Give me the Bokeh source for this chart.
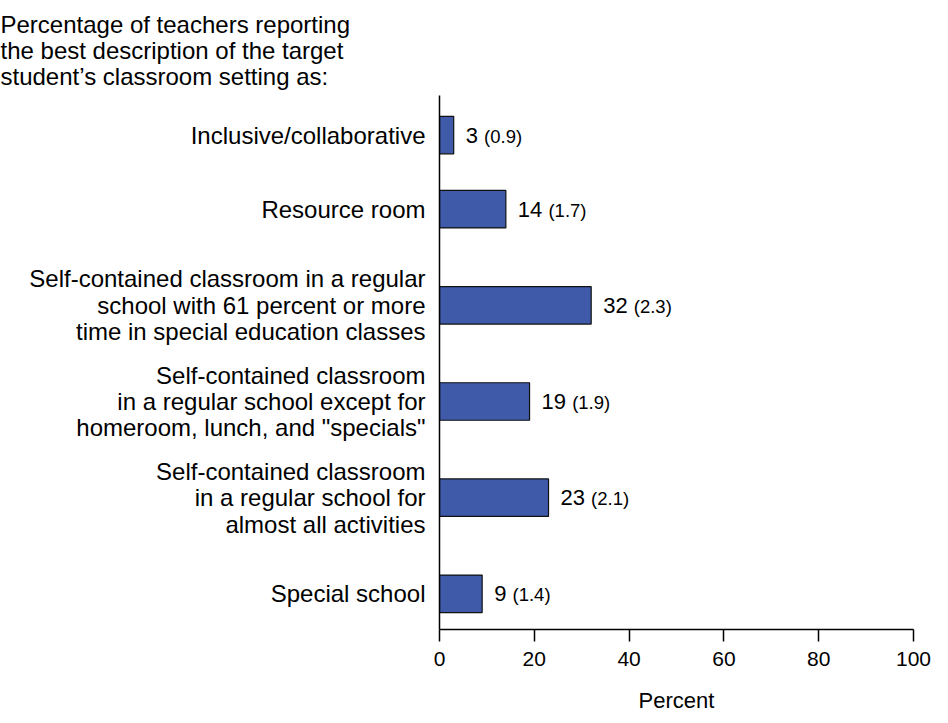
from bokeh.plotting import figure
from bokeh.models import ColumnDataSource, Range1d, FixedTicker
from bokeh.embed import file_html
from bokeh.resources import INLINE
from bokeh.core.properties import value

# ---- data (top to bottom as shown) ----
categories = [
    "Inclusive/collaborative",
    "Resource room",
    "Self-contained classroom in a regular\nschool with 61 percent or more\ntime in special education classes",
    "Self-contained classroom\nin a regular school except for\nhomeroom, lunch, and \"specials\"",
    "Self-contained classroom\nin a regular school for\nalmost all activities",
    "Special school",
]
percents = [3, 14, 32, 19, 23, 9]
std_errors = [0.9, 1.7, 2.3, 1.9, 2.1, 1.4]
x_ticks = [0, 20, 40, 60, 80, 100]
title_text = ("Percentage of teachers reporting\n"
              "the best description of the target\n"
              "student\u2019s classroom setting as:")
x_label = "Percent"

# ---- layout (computed, not data) ----
slot_pos = [4.77, 4, 3, 2, 1, 0]
FONT = "Liberation Sans"
NUM_SIZE = 22
SE_SIZE = 18.5
LEFT = 439
num_txt = [str(v) for v in percents]
se_txt = ["(%.1f)" % s for s in std_errors]
num_off = [12 for _ in percents]
se_off = [12 + len(t) * 0.556 * NUM_SIZE + 0.278 * NUM_SIZE for t in num_txt]

src = ColumnDataSource(dict(y=slot_pos, x=percents, num=num_txt, se=se_txt,
                            num_off=num_off, se_off=se_off))

p = figure(width=932, height=715, output_backend="svg", toolbar_location=None,
           x_range=Range1d(0, 100), y_range=Range1d(-0.371, 5.182),
           min_border_left=LEFT, min_border_right=19, min_border_top=95,
           min_border_bottom=81)
p.outline_line_color = None
p.grid.visible = False
p.background_fill_color = "white"

p.title.text = title_text
p.title.align = "left"
p.title.offset = -LEFT
p.title.standoff = 10
p.title.text_font = FONT
p.title.text_font_size = "24px"
p.title.text_font_style = "normal"
p.title.text_color = "black"
p.title.text_line_height = 0.98

p.hbar(y="y", right="x", left=0, height=0.39, source=src,
       fill_color="#3F5AA8", line_color="#111111", line_width=1.2)

p.text(x="x", y="y", text="num", source=src, x_offset="num_off",
       text_font=value(FONT), text_font_size=f"{NUM_SIZE}px",
       text_baseline="middle", text_align="left", text_color="black")
p.text(x="x", y="y", text="se", source=src, x_offset="se_off", y_offset=1,
       text_font=value(FONT), text_font_size=f"{SE_SIZE}px",
       text_baseline="middle", text_align="left", text_color="black")

# x axis
xa = p.xaxis[0]
xa.ticker = FixedTicker(ticks=x_ticks)
xa.minor_tick_line_color = None
xa.major_tick_out = 12
xa.major_tick_in = 0
xa.major_tick_line_color = "black"
xa.major_tick_line_width = 1.5
xa.axis_line_color = "black"
xa.axis_line_width = 1.5
xa.major_label_text_font = FONT
xa.major_label_text_font_size = "21px"
xa.major_label_text_color = "black"
xa.major_label_standoff = 10
xa.axis_label = x_label
xa.axis_label_text_font = FONT
xa.axis_label_text_font_size = "22px"
xa.axis_label_text_font_style = "normal"
xa.axis_label_text_color = "black"
xa.axis_label_standoff = 19

# y axis
ya = p.yaxis[0]
ya.ticker = FixedTicker(ticks=slot_pos)
ya.major_label_overrides = {pos: lab for pos, lab in zip(slot_pos, categories)}
ya.major_tick_out = 0
ya.major_tick_in = 0
ya.minor_tick_line_color = None
ya.axis_line_color = "black"
ya.axis_line_width = 1.5
ya.major_label_text_font = FONT
ya.major_label_text_font_size = "24px"
ya.major_label_text_color = "black"
ya.major_label_text_line_height = 0.98
ya.major_label_standoff = 14

open("out.html", "w").write(file_html(p, INLINE))
